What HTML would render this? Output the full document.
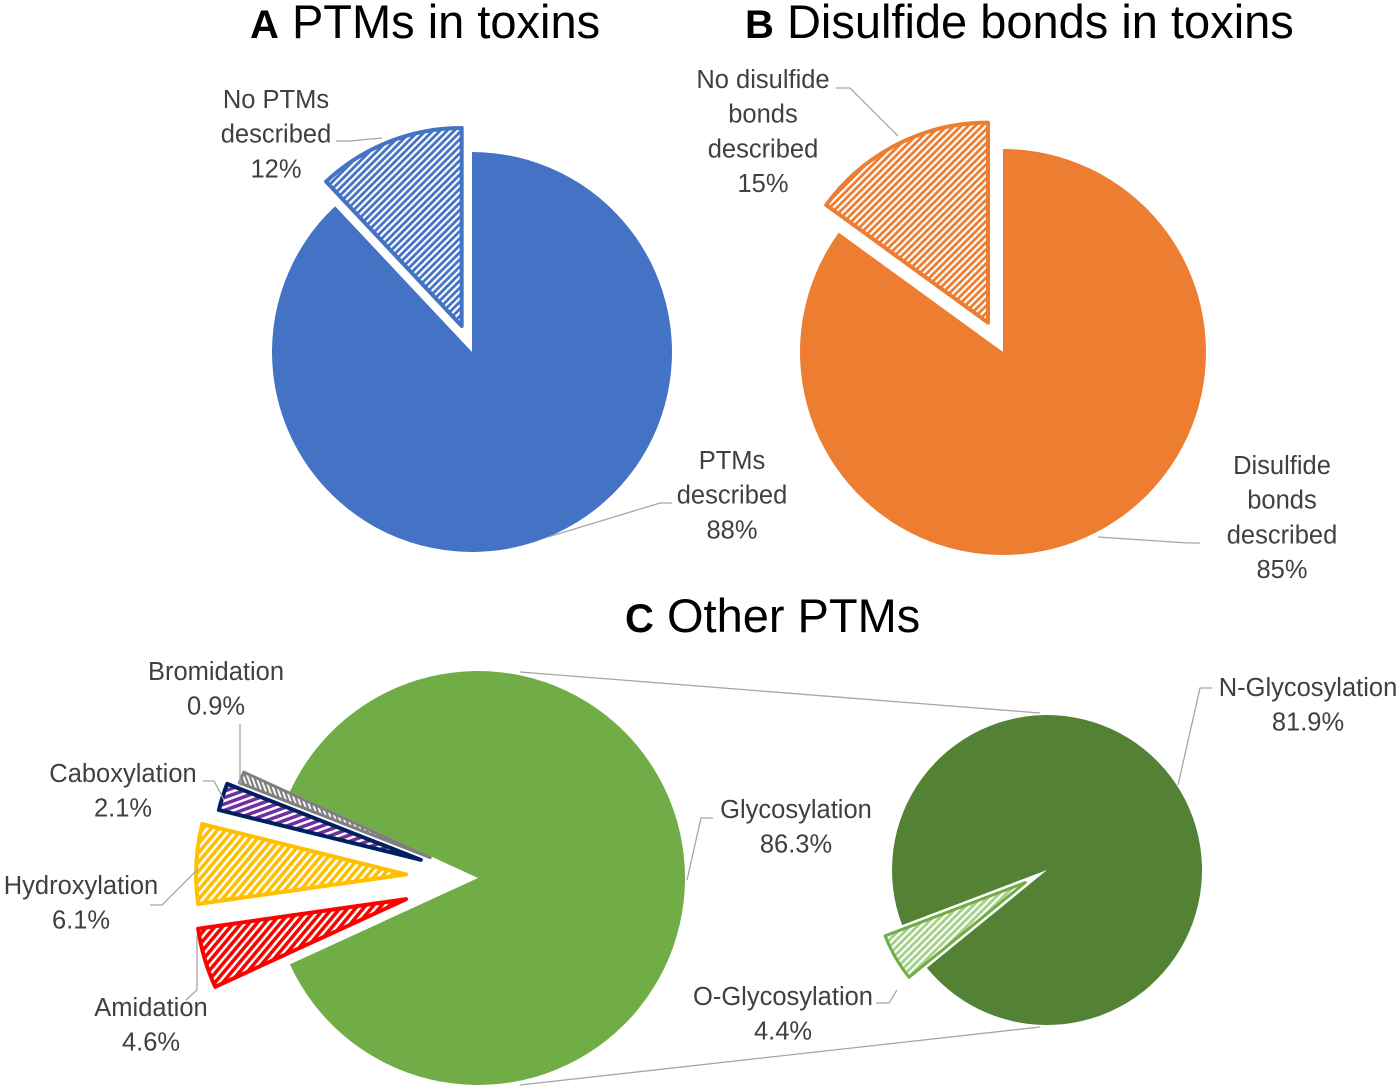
<!DOCTYPE html>
<html><head><meta charset="utf-8"><style>
body{margin:0;background:#fff}
svg{display:block;font-family:"Liberation Sans",sans-serif}
.lbl{font-size:25.5px;fill:#404040}
.ttl{font-size:47px;fill:#000}
.lead{stroke:#a6a6a6;stroke-width:1.3;fill:none}
</style></head><body>
<svg id="chart" width="1400" height="1089" viewBox="0 0 1400 1089">
<defs>
<pattern id="hBlue" width="5" height="5" patternUnits="userSpaceOnUse" patternTransform="rotate(-45)"><rect width="5" height="5" fill="#4472c4"/><rect width="5" height="2.2" fill="#fff"/></pattern>
<pattern id="hOrange" width="5" height="5" patternUnits="userSpaceOnUse" patternTransform="rotate(-45)"><rect width="5" height="5" fill="#ed7d31"/><rect width="5" height="2.2" fill="#fff"/></pattern>
<pattern id="hRed" width="6" height="6" patternUnits="userSpaceOnUse" patternTransform="rotate(-50)"><rect width="6" height="6" fill="#ff0000"/><rect width="6" height="2.5" fill="#fff"/></pattern>
<pattern id="hYellow" width="6" height="6" patternUnits="userSpaceOnUse" patternTransform="rotate(-50)"><rect width="6" height="6" fill="#ffc000"/><rect width="6" height="2.5" fill="#fff"/></pattern>
<pattern id="hPurple" width="6" height="6" patternUnits="userSpaceOnUse" patternTransform="rotate(-20)"><rect width="6" height="6" fill="#7030a0"/><rect width="6" height="2.5" fill="#fff"/></pattern>
<pattern id="hGray" width="4" height="4" patternUnits="userSpaceOnUse" patternTransform="rotate(70)"><rect width="4" height="4" fill="#7f7f7f"/><rect width="4" height="1.8" fill="#fff"/></pattern>
<pattern id="hGreen" width="5" height="5" patternUnits="userSpaceOnUse" patternTransform="rotate(-45)"><rect width="5" height="5" fill="#a9d18e"/><rect width="5" height="2" fill="#fff"/></pattern>
</defs>
<text x="250" y="38" class="ttl"><tspan font-weight="bold" font-size="40">A</tspan>  PTMs in toxins</text>
<text x="745" y="38" class="ttl"><tspan font-weight="bold" font-size="40">B</tspan>  Disulfide bonds in toxins</text>
<text x="625" y="632" class="ttl"><tspan font-weight="bold" font-size="40">C</tspan>  Other PTMs</text>
<g>
<line x1="520" y1="672" x2="1040" y2="713" class="lead"/>
<line x1="520" y1="1085" x2="1040" y2="1027" class="lead"/>
</g>
<g id="marks"></g>
<g id="labels"></g>
</svg>
<script>
// Chart A
const aLabels = ['PTMs described', 'No PTMs described'];
const aValues = [88, 12];
// Chart B
const bLabels = ['Disulfide bonds described', 'No disulfide bonds described'];
const bValues = [85, 15];
// Chart C main
const cLabels = ['Glycosylation', 'Amidation', 'Hydroxylation', 'Caboxylation', 'Bromidation'];
const cValues = [86.3, 4.6, 6.1, 2.1, 0.9];
// Chart C secondary (glycosylation breakdown)
const dLabels = ['N-Glycosylation', 'O-Glycosylation'];
const dValues = [81.9, 4.4];

const NS = 'http://www.w3.org/2000/svg';
const marks = document.getElementById('marks');
const labels = document.getElementById('labels');
function pt(cx, cy, r, a) { const t = a * Math.PI / 180; return [cx + r * Math.sin(t), cy - r * Math.cos(t)]; }
function wedge(cx, cy, r, a0, a1, ex) {
  const m = (a0 + a1) / 2, o = pt(0, 0, ex, m);
  cx += o[0]; cy += o[1];
  const p0 = pt(cx, cy, r, a0), p1 = pt(cx, cy, r, a1);
  const large = (a1 - a0) > 180 ? 1 : 0;
  return `M${cx},${cy}L${p0[0]},${p0[1]}A${r},${r} 0 ${large} 1 ${p1[0]},${p1[1]}Z`;
}
function addPath(d, fill, stroke, sw, name) {
  const p = document.createElementNS(NS, 'path');
  p.setAttribute('d', d); p.setAttribute('fill', fill);
  p.setAttribute('stroke', stroke); p.setAttribute('stroke-width', sw);
  p.setAttribute('stroke-linejoin', 'round');
  
  
  marks.appendChild(p);
}
function slug(s) { return s.toLowerCase().replace(/[^a-z0-9]+/g, '-'); }

function pie(cx, cy, r, vals, names, start, styles) {
  const tot = vals.reduce((s, v) => s + v, 0);
  let a = start;
  vals.forEach((v, i) => {
    const d = v / tot * 360, s = styles[i];
    addPath(wedge(cx, cy, s.r || r, a, a + d, s.ex), s.fill, s.stroke || 'none', s.sw || 0, 'slice-' + slug(names[i]));
    a += d;
  });
}
pie(472, 352, 200, aValues, aLabels, 0, [{ex: 0, fill: '#4472c4'}, {ex: 28, fill: 'url(#hBlue)', stroke: '#4472c4', sw: 4, r: 198}]);
pie(1003, 352, 203, bValues, bLabels, 0, [{ex: 0, fill: '#ed7d31'}, {ex: 33, fill: 'url(#hOrange)', stroke: '#ed7d31', sw: 4, r: 200}]);
const cTot = cValues.reduce((s, v) => s + v, 0);
pie(478, 878, 207, cValues, cLabels, 90 - cValues[0] / cTot * 360 / 2, [
  {ex: 0, fill: '#70ad47'},
  {ex: 75, fill: 'url(#hRed)', stroke: '#ff0000', sw: 4, r: 210},
  {ex: 72, fill: 'url(#hYellow)', stroke: '#ffc000', sw: 4, r: 210},
  {ex: 60, fill: 'url(#hPurple)', stroke: '#002060', sw: 4, r: 208},
  {ex: 52, fill: 'url(#hGray)', stroke: '#7f7f7f', sw: 3, r: 205}]);
const dTot = dValues.reduce((s, v) => s + v, 0);
const oDeg = dValues[1] / dTot * 360;
pie(1047, 870, 155, dValues, dLabels, 240 + oDeg / 2, [
  {ex: 0, fill: '#548235'},
  {ex: 25, fill: 'url(#hGreen)', stroke: '#70ad47', sw: 3, r: 150}]);

function fmt(v, dec) { return v.toFixed(dec) + '%'; }
function label(x, y, lines, name, lead) {
  const g = document.createElementNS(NS, 'g');
  
  
  lines.forEach((t, i) => {
    const e = document.createElementNS(NS, 'text');
    e.setAttribute('x', x); e.setAttribute('y', y + i * 34.7 + 9);
    e.setAttribute('text-anchor', 'middle'); e.setAttribute('class', 'lbl');
    e.textContent = t; g.appendChild(e);
  });
  const l = document.createElementNS(NS, 'polyline');
  l.setAttribute('points', lead); l.setAttribute('class', 'lead');
  g.appendChild(l);
  labels.appendChild(g);
}
label(276, 99, ['No PTMs', 'described', fmt(aValues[1], 0)], 'label-no-ptms', '336,141 350,141 382,138');
label(732, 460, ['PTMs', 'described', fmt(aValues[0], 0)], 'label-ptms', '672,503 660,503 548,537');
label(763, 79, ['No disulfide', 'bonds', 'described', fmt(bValues[1], 0)], 'label-no-disulfide', '836,88 850,88 898,136');
label(1282, 465, ['Disulfide', 'bonds', 'described', fmt(bValues[0], 0)], 'label-disulfide', '1200,543 1188,543 1098,537');
label(216, 671, [cLabels[4], fmt(cValues[4], 1)], 'label-bromidation', '240,724 240,786');
label(123, 773, [cLabels[3], fmt(cValues[3], 1)], 'label-caboxylation', '203,781 214,781 224,800');
label(81, 885, [cLabels[2], fmt(cValues[2], 1)], 'label-hydroxylation', '150,905 162,905 198,869');
label(151, 1007, [cLabels[1], fmt(cValues[1], 1)], 'label-amidation', '186,1000 197,990 197,936');
label(796, 809, [cLabels[0], fmt(cValues[0], 1)], 'label-glycosylation', '713,818 701,818 687,880');
label(1308, 687, [dLabels[0], fmt(dValues[0], 1)], 'label-n-glycosylation', '1212,688 1200,688 1178,785');
label(783, 996, [dLabels[1], fmt(dValues[1], 1)], 'label-o-glycosylation', '876,1003 889,1003 897,990');
</script>
</body></html>
